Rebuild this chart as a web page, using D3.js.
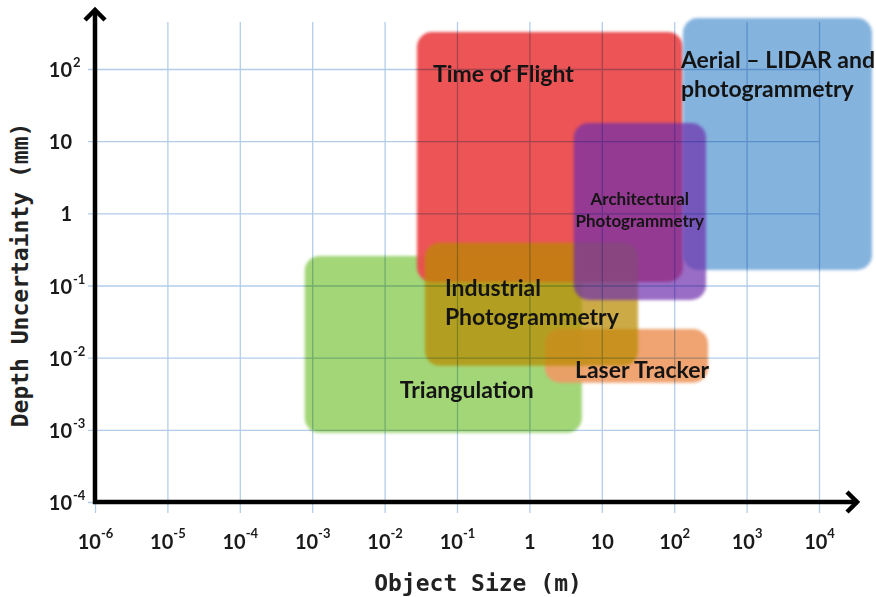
<!DOCTYPE html>
<html>
<head>
<meta charset="utf-8">
<script src="https://cdn.jsdelivr.net/npm/d3@7"></script>
<style>
  body { margin: 0; background: #fff; }
  svg { display: block; }
</style>
</head>
<body>
<div id="chart"></div>
<script>
// tick values for both log axes
const sizeTicks = [1e-6, 1e-5, 1e-4, 1e-3, 1e-2, 1e-1, 1, 10, 1e2, 1e3, 1e4]
const depthTicks = [1e-4, 1e-3, 1e-2, 1e-1, 1, 10, 1e2]

// measurement technique regions (object size in m, depth uncertainty in mm)
// drawn in this order, bottom to top
const regionNames = ['Triangulation', 'Time of Flight', 'Laser Tracker',
  'Industrial Photogrammetry', 'Aerial – LIDAR and photogrammetry', 'Architectural Photogrammetry']
const sizeMin = [7.9e-4, 0.028, 1.64, 0.036, 132, 4.1]
const sizeMax = [5.3, 132, 293, 31.6, 5.4e4, 275]
const depthMin = [9.1e-4, 0.112, 0.0045, 0.0077, 0.164, 0.063]
const depthMax = [0.257, 325, 0.025, 0.39, 508, 17.9]
const labelLines = [['Triangulation'], ['Time of Flight'], ['Laser Tracker'],
  ['Industrial', 'Photogrammetry'], ['Aerial – LIDAR and', 'photogrammetry'],
  ['Architectural', 'Photogrammetry']]

// looks
const fills = ['#a2d677', '#eb4d4f', '#ee9c66', 'rgb(184,138,0)', '#84b3de', 'rgb(110,45,172)']
const fillOpacity = [1, 0.96, 0.92, 0.72, 1, 0.7]
const labelStyle = [
  {dx: 95, dy: 142, size: 23, anchor: 'start', lh: 29},
  {dx: 16, dy: 50, size: 23, anchor: 'start', lh: 29},
  {dx: 30, dy: 49, size: 23, anchor: 'start', lh: 29},
  {dx: 20, dy: 53, size: 23, anchor: 'start', lh: 29},
  {dx: -2, dy: 50, size: 23, anchor: 'start', lh: 29},
  {dx: 66, dy: 82, size: 17, anchor: 'middle', lh: 22}
]

const width = 876
const height = 597
const gridColor = '#a9c7e8'
const labelFont = 'Lato, "Open Sans", sans-serif'
const monoFont = '"DejaVu Sans Mono", "Liberation Mono", monospace'

const x = d3.scaleLog().domain([1e-6, 1e4]).range([95, 819])
const y = d3.scaleLog().domain([1e-4, 1e2]).range([502, 69])

const svg = d3.select('#chart')
  .append('svg')
    .attr('width', width)
    .attr('height', height)

const defs = svg.append('defs')
defs.append('filter')
    .attr('id', 'soft')
    .attr('x', '-10%').attr('y', '-10%')
    .attr('width', '120%').attr('height', '120%')
  .append('feGaussianBlur')
    .attr('stdDeviation', 1.6)

// regions
const regions = regionNames.map((name, i) => ({
  name: name,
  x0: sizeMin[i], x1: sizeMax[i],
  y0: depthMin[i], y1: depthMax[i],
  i: i
}))

svg.append('g')
  .selectAll('rect')
  .data(regions)
  .enter()
  .append('rect')
    .attr('x', d => x(d.x0))
    .attr('y', d => y(d.y1))
    .attr('width', d => x(d.x1) - x(d.x0))
    .attr('height', d => y(d.y0) - y(d.y1))
    .attr('rx', 15)
    .attr('ry', 15)
    .style('fill', d => fills[d.i])
    .style('fill-opacity', d => fillOpacity[d.i])
    .attr('filter', 'url(#soft)')

// grid, multiplied over the regions
const grid = svg.append('g')
  .style('mix-blend-mode', 'multiply')
  .style('opacity', 0.9)

grid.append('g')
  .attr('transform', 'translate(0,513)')
  .call(d3.axisBottom(x).tickValues(sizeTicks).tickSize(-(513 - 22)).tickFormat(''))
grid.append('g')
  .attr('transform', 'translate(88,0)')
  .call(d3.axisLeft(y).tickValues(depthTicks).tickSize(-(819 - 88)).tickFormat(''))
grid.selectAll('.domain').remove()
grid.selectAll('line')
  .style('stroke', gridColor)
  .style('stroke-width', 1.3)

// tick labels
const expOf = v => Math.round(Math.log10(v))
const baseText = v => expOf(v) === 0 ? '1' : '10'
const supText = v => {
  const e = expOf(v)
  return (e === 0 || e === 1) ? '' : String(e)
}

const xAxis = svg.append('g')
  .attr('transform', 'translate(0,502)')
  .call(d3.axisBottom(x).tickValues(sizeTicks).tickSize(0).tickFormat(''))
xAxis.select('.domain').remove()
xAxis.selectAll('.tick text')
  .attr('y', 47)
  .attr('dy', 0)
  .style('font-family', labelFont)
  .style('font-weight', 'bold')
  .style('font-size', '20px')
  .style('fill', '#1a1a1a')
  .each(function(d) {
    const t = d3.select(this)
    t.append('tspan').text(baseText(d))
    if (supText(d)) {
      t.append('tspan')
        .attr('dy', -11)
        .style('font-size', '13px')
        .text(supText(d))
    }
  })

const yAxis = svg.append('g')
  .attr('transform', 'translate(95,0)')
  .call(d3.axisLeft(y).tickValues(depthTicks).tickSize(0).tickPadding(23).tickFormat(baseText))
yAxis.select('.domain').remove()
yAxis.selectAll('.tick text')
  .attr('dy', 7.5)
  .style('font-family', labelFont)
  .style('font-weight', 'bold')
  .style('font-size', '20px')
  .style('fill', '#1a1a1a')
yAxis.selectAll('.tick')
  .filter(d => supText(d) !== '')
  .append('text')
    .attr('x', -22)
    .attr('y', -2.5)
    .attr('text-anchor', 'start')
    .style('font-family', labelFont)
    .style('font-weight', 'bold')
    .style('font-size', '13px')
    .style('fill', '#1a1a1a')
    .text(d => supText(d))

// axis lines with arrow heads
const x0 = x.range()[0]
const yb = y.range()[0]
const axes = svg.append('g')
  .style('stroke', '#000')
  .style('stroke-width', 4.5)
  .style('fill', 'none')
axes.append('path')
  .attr('d', `M${x0},${yb + 2}V10`)
axes.append('path')
  .attr('d', `M${x0 - 2},${yb}H858`)
axes.append('path')
  .attr('d', `M${x0 - 10},20L${x0},10L${x0 + 10},20`)
  .style('stroke-linejoin', 'miter')
axes.append('path')
  .attr('d', `M847,${yb - 10}L857,${yb}L847,${yb + 10}`)
  .style('stroke-linejoin', 'miter')

// region labels
const labels = svg.append('g')
  .style('font-family', labelFont)
  .style('font-weight', 'bold')
  .style('fill', '#141414')
regions.forEach(d => {
  const s = labelStyle[d.i]
  const t = labels.append('text')
    .attr('text-anchor', s.anchor)
    .style('font-size', s.size + 'px')
  labelLines[d.i].forEach((line, k) => {
    t.append('tspan')
      .attr('x', x(d.x0) + s.dx)
      .attr('y', y(d.y1) + s.dy + k * s.lh)
      .text(line)
  })
})

// axis titles
svg.append('text')
  .attr('x', 478)
  .attr('y', 591)
  .attr('text-anchor', 'middle')
  .style('font-family', monoFont)
  .style('font-weight', 'bold')
  .style('font-size', '23px')
  .style('fill', '#222')
  .text('Object Size (m)')

svg.append('text')
  .attr('transform', 'translate(28,275) rotate(-90)')
  .attr('text-anchor', 'middle')
  .style('font-family', monoFont)
  .style('font-weight', 'bold')
  .style('font-size', '23px')
  .style('fill', '#222')
  .text('Depth Uncertainty (mm)')
</script>
</body>
</html>
